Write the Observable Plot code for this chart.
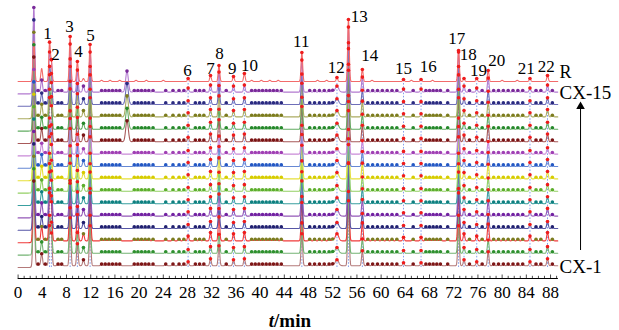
<!DOCTYPE html>
<html><head><meta charset="utf-8">
<script src="https://cdn.jsdelivr.net/npm/d3@7"></script>
<script src="https://cdn.jsdelivr.net/npm/@observablehq/plot@0.6"></script>
<style>body{margin:0;background:#fff;} #chart{position:absolute;left:0;top:0;} svg text{font-family:"Liberation Serif","Tinos","Times New Roman","DejaVu Serif",serif !important;}</style>
</head><body><div id="chart"></div>
<script>
// ---------- data ----------
const traceNames = ["R","CX-15","CX-14","CX-13","CX-12","CX-11","CX-10","CX-9","CX-8","CX-7","CX-6","CX-5","CX-4","CX-3","CX-2","CX-1"];
const lineColors = ["#f26b6b","#b27ad0","#6e6eb8","#acac62","#62ac62","#a85a5a","#c98ad8","#6688d4","#e6df3a","#94d064","#3aa0a0","#9458b8","#5656a6","#f03a3a","#74b474","#b47a7a"];
const markerColors = ["#e41a1c","#7a2a9a","#2a2a80","#7c7c1e","#25882a","#7a1414","#a040b4","#2458c4","#d6cc00","#5cae2c","#0e8080","#7222a2","#202070","#7c7c20","#2e902e","#7e1616"];
const peakNo = d3.range(1, 23);
const peakTimes = [5.2, 5.5, 8.6, 9.8, 11.9, 28.1, 31.8, 33.2, 35.6, 37.4, 46.9, 52.7, 54.6, 56.9, 63.7, 66.6, 72.8, 73.7, 75.8, 77.7, 84.6, 87.5];
const refHeights = [38, 19, 45, 20, 37, 3, 6, 16, 5, 8, 29, 4, 62, 12, 2, 2, 31, 3, 3, 11, 3, 6];
const sampleHeights = [38, 30, 48, 22, 40, 4, 7, 20, 6, 7, 32, 6, 65, 15, 3, 3, 40, 6, 4, 14, 4, 7];
const sampleScale = [1.0, 0.95, 1.05, 1.0, 1.1, 0.9, 1.0, 1.05, 0.95, 1.0, 1.1, 1.0, 1.2, 0.95, 1.0]; // CX-15 .. CX-1
const extraTimes = [2.6, 3.9, 10.8];
const extraRef = [40, 13, 3];
const extraSample = [85, 12, 6];
const lateTime = 18.0, lateHeight = 21;
const lateSamples = ["CX-15","CX-14","CX-13","CX-12","CX-11"];
const minorTimes = [3.3, 4.5, 6.6, 7.2, 13.8, 14.4, 15.0, 15.6, 16.2, 16.8, 19.2, 19.8, 20.4, 21.0, 21.6, 22.3, 24.4, 25.6, 26.6, 27.4, 29.3, 30.0, 30.7, 34.4, 38.6, 39.2, 39.8, 40.4, 41.0, 41.6, 42.2, 42.8, 43.5, 48.2, 49.0, 49.8, 50.6, 51.4, 52.0, 57.8, 58.6, 59.4, 60.2, 61.0, 61.8, 62.6, 65.3, 67.4, 68.0, 68.6, 69.2, 69.8, 71.0, 74.6, 76.7, 78.6, 79.4, 80.2, 81.0, 81.8, 82.6, 83.4, 85.6, 86.4, 88.3];
const refMinorTimes = [13.8, 15.2, 16.8, 19.5, 21.2, 24.0, 38.6, 40.2, 41.6, 43.0, 49.5, 51.0, 58.5, 65.0, 68.5, 80.0, 82.5];
const labelT = [4.86, 6.18, 8.5, 9.98, 11.97, 28.0, 31.8, 33.3, 35.4, 38.25, 46.8, 52.6, 56.4, 58.1, 63.7, 67.8, 72.5, 74.4, 76.1, 79.1, 84.0, 87.3];
const labelV = [245, 224, 252, 227, 243, 208, 210, 225, 210, 213, 237, 211, 262, 223, 210, 212, 240, 224, 208, 218, 210, 212];
const xTicks = d3.range(0, 89, 4);
const xMinor = d3.range(0, 90, 1);

// ---------- build curves ----------
function offsetOf(i) { return i === 0 ? 197 : 11 + (15 - i) * 12.4; }
function peaksOf(i) {
  const name = traceNames[i];
  const ps = [];
  if (i === 0) {
    peakTimes.forEach((t, k) => ps.push({t, h: refHeights[k], s: 0.13}));
    extraTimes.forEach((t, k) => ps.push({t, h: extraRef[k], s: 0.14}));
    refMinorTimes.forEach(t => ps.push({t, h: 1.2, s: 0.15}));
  } else {
    const f = sampleScale[i - 1];
    peakTimes.forEach((t, k) => ps.push({t, h: sampleHeights[k] * f, s: k === 11 ? 0.28 : 0.13}));
    extraTimes.forEach((t, k) => ps.push({t, h: extraSample[k] * (k === 0 ? 1 : f), s: 0.14}));
    if (lateSamples.includes(name)) ps.push({t: lateTime, h: lateHeight, s: 0.22});
    minorTimes.forEach(t => ps.push({t, h: 1.6, s: 0.14}));
  }
  return ps;
}
function evalAt(ps, base, stepOn, t) {
  let v = base;
  if (stepOn) v += 1.8 / (1 + Math.exp(-(t - 2.4) / 0.15));
  for (const p of ps) { const d = (t - p.t) / p.s; if (d > -6 && d < 6) v += p.h * Math.exp(-0.5 * d * d); }
  return v;
}
const traces = traceNames.map((name, i) => {
  const ps = peaksOf(i), base = offsetOf(i), stepOn = i !== 0;
  const pts = d3.range(0, 89.2, 0.03).map(t => ({t, v: evalAt(ps, base, stepOn, t)}));
  const redDots = peakTimes.map(t => ({t, v: evalAt(ps, base, stepOn, t)}));
  const minorDots = i === 0 ? [] : minorTimes.map(t => ({t, v: evalAt(ps, base, stepOn, t)}));
  if (i !== 0) extraTimes.forEach(t => minorDots.push({t, v: evalAt(ps, base, stepOn, t)}));
  if (lateSamples.includes(name)) minorDots.push({t: lateTime, v: evalAt(ps, base, stepOn, lateTime)});
  return {name, i, pts, redDots, minorDots, base};
});

// ---------- marks ----------
const serif = "Liberation Serif";
const marks = [];
marks.push(Plot.ruleX(peakTimes, {x: d => d, y1: offsetOf(15), y2: offsetOf(0), stroke: "#4f72e3", strokeDasharray: "1.6,1.6", strokeWidth: 0.8, strokeOpacity: 0.85}));
for (let i = 15; i >= 0; i--) {
  const tr = traces[i];
  marks.push(Plot.line(tr.pts, {x: "t", y: "v", stroke: lineColors[i], strokeWidth: 1.1}));
}
for (let i = 15; i >= 0; i--) {
  const tr = traces[i];
  if (tr.minorDots.length) marks.push(Plot.dot(tr.minorDots, {x: "t", y: "v", r: 1.8, fill: markerColors[i], stroke: "none"}));
  marks.push(Plot.dot(tr.redDots, {x: "t", y: "v", r: 1.8, fill: "#ee1c1c", stroke: "none"}));
}
// axis
marks.push(Plot.ruleY([0], {x1: 0, x2: 89.3, stroke: "#000", strokeWidth: 1.2}));
marks.push(Plot.ruleX(xMinor, {x: d => d, y1: 0, y2: d => d % 4 === 0 ? 3.5 : 2.2, stroke: "#000", strokeWidth: 0.7}));
marks.push(Plot.text(xTicks, {x: d => d, y: 0, dy: 14, text: d => String(d), fontFamily: serif, fontSize: 17, fill: "#000"}));
marks.push(Plot.text(["t"], {x: 42.3, y: 0, dy: 42, text: d => d, textAnchor: "end", fontFamily: serif, fontStyle: "italic", fontWeight: "bold", fontSize: 19, fill: "#000"}));
marks.push(Plot.text(["/min"], {x: 42.3, y: 0, dy: 42, text: d => d, textAnchor: "start", fontFamily: serif, fontWeight: "bold", fontSize: 19, fill: "#000"}));
// peak labels
marks.push(Plot.text(peakNo, {x: (d, k) => labelT[k], y: (d, k) => labelV[k], text: d => String(d), fontFamily: serif, fontSize: 17, fill: "#000"}));
// trace labels
marks.push(Plot.text(["R"], {x: 89.5, y: 206, text: d => d, textAnchor: "start", fontFamily: serif, fontSize: 18, fill: "#000"}));
marks.push(Plot.text(["CX-15"], {x: 89.5, y: 186, text: d => d, textAnchor: "start", fontFamily: serif, fontSize: 19, fill: "#000"}));
marks.push(Plot.text(["CX-1"], {x: 89.5, y: 12, text: d => d, textAnchor: "start", fontFamily: serif, fontSize: 19, fill: "#000"}));
// arrow
marks.push(Plot.ruleX([92.96], {x: d => d, y1: 28, y2: 170, stroke: "#000", strokeWidth: 1}));
marks.push(Plot.dot([92.96], {x: d => d, y: 172, symbol: "triangle", r: 3.2, fill: "#000", stroke: "none"}));

const chart = Plot.plot({
  width: 619, height: 330,
  marginLeft: 17.6, marginRight: 61.1, marginTop: 0, marginBottom: 52,
  x: {domain: [0, 89.3], axis: null},
  y: {domain: [0, 278], axis: null},
  style: {background: "#fff", overflow: "visible"},
  marks
});
document.getElementById("chart").appendChild(chart);
</script>
</body></html>
